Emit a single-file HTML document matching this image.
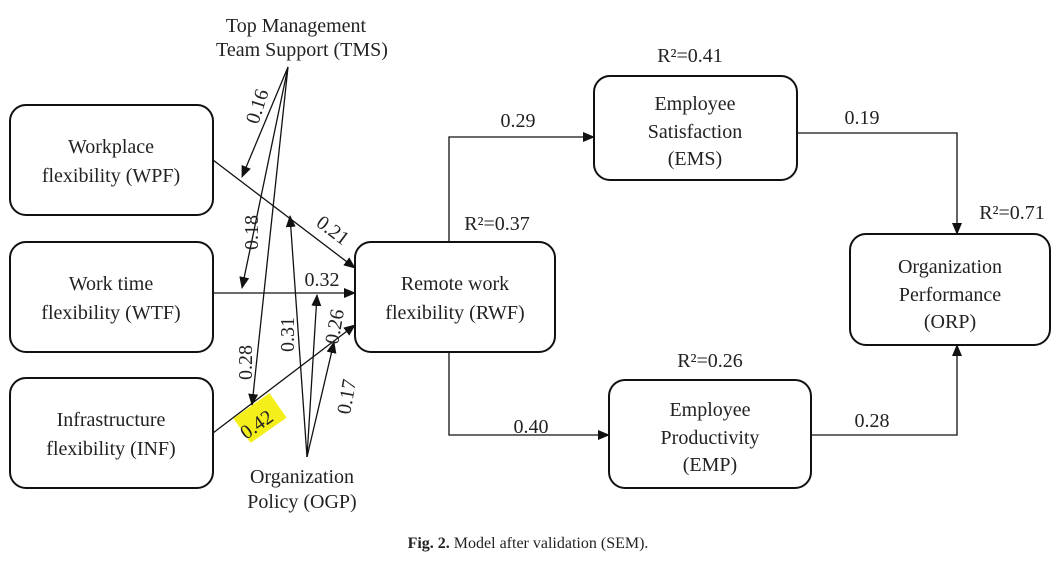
<!DOCTYPE html>
<html><head><meta charset="utf-8"><style>
body{margin:0;background:#fff;}
svg text{font-family:"Liberation Serif",serif;fill:#222;}
</style></head><body>
<svg width="1056" height="557" viewBox="0 0 1056 557" xmlns="http://www.w3.org/2000/svg">
<defs><marker id="a" markerWidth="12" markerHeight="10" refX="11" refY="5" orient="auto" markerUnits="userSpaceOnUse"><path d="M0,0 L12,5 L0,10 z" fill="#111"/></marker></defs>
<g fill="none" stroke="#111" stroke-width="2">
<rect x="10" y="105" width="203" height="110" rx="16"/>
<rect x="10" y="242" width="203" height="110" rx="16"/>
<rect x="10" y="378" width="203" height="110" rx="16"/>
<rect x="355" y="242" width="200" height="110" rx="16"/>
<rect x="594" y="76" width="203" height="104" rx="16"/>
<rect x="609" y="380" width="202" height="108" rx="16"/>
<rect x="850" y="234" width="200" height="111" rx="16"/>
</g>
<g fill="none" stroke="#111" stroke-width="1.3">
<line x1="213" y1="160" x2="355" y2="268" marker-end="url(#a)"/>
<line x1="213" y1="293" x2="355" y2="293" marker-end="url(#a)"/>
<line x1="213" y1="433" x2="355" y2="325" marker-end="url(#a)"/>
<line x1="288" y1="67" x2="242" y2="177" marker-end="url(#a)"/>
<line x1="288" y1="67" x2="242" y2="288" marker-end="url(#a)"/>
<line x1="288" y1="67" x2="252" y2="405" marker-end="url(#a)"/>
<line x1="307" y1="457" x2="290" y2="216" marker-end="url(#a)"/>
<line x1="307" y1="457" x2="317" y2="295" marker-end="url(#a)"/>
<line x1="307" y1="457" x2="334" y2="342" marker-end="url(#a)"/>
<polyline points="449,242 449,137 594,137" marker-end="url(#a)"/>
<polyline points="449,352 449,435 609,435" marker-end="url(#a)"/>
<polyline points="797,133 957,133 957,234" marker-end="url(#a)"/>
<polyline points="811,435 957,435 957,345" marker-end="url(#a)"/>
</g>
<g font-size="20" text-anchor="middle">
<text x="296" y="32">Top Management</text>
<text x="302" y="56">Team Support (TMS)</text>
<text x="111" y="153">Workplace</text>
<text x="111" y="182">flexibility (WPF)</text>
<text x="111" y="290">Work time</text>
<text x="111" y="319">flexibility (WTF)</text>
<text x="111" y="426">Infrastructure</text>
<text x="111" y="455">flexibility (INF)</text>
<text x="455" y="290">Remote work</text>
<text x="455" y="319">flexibility (RWF)</text>
<text x="695" y="110">Employee</text>
<text x="695" y="138">Satisfaction</text>
<text x="695" y="165">(EMS)</text>
<text x="710" y="416">Employee</text>
<text x="710" y="444">Productivity</text>
<text x="710" y="471">(EMP)</text>
<text x="950" y="273">Organization</text>
<text x="950" y="301">Performance</text>
<text x="950" y="328">(ORP)</text>
<text x="302" y="483">Organization</text>
<text x="302" y="508">Policy (OGP)</text>
<text x="690" y="62">R²=0.41</text>
<text x="497" y="230">R²=0.37</text>
<text x="710" y="367">R²=0.26</text>
<text x="1012" y="219">R²=0.71</text>
<text x="518" y="127">0.29</text>
<text x="862" y="124">0.19</text>
<text x="531" y="433">0.40</text>
<text x="872" y="427">0.28</text>
<text x="322" y="286">0.32</text>
</g>
<g font-size="20">
<text transform="translate(258,125) rotate(-72)">0.16</text>
<text transform="translate(258,250) rotate(-90)">0.18</text>
<text transform="translate(252,380) rotate(-90)">0.28</text>
<text transform="translate(294,352) rotate(-90)">0.31</text>
<text transform="translate(338,345) rotate(-80)">0.26</text>
<text transform="translate(350,415) rotate(-80)">0.17</text>
<text transform="translate(315,225) rotate(37)">0.21</text>
<rect x="238" y="403" width="44" height="30" fill="#f4ee1a" transform="rotate(-35,260,418)"/>
<text transform="translate(246,440) rotate(-35)">0.42</text>
</g>
<text x="528" y="548" font-size="16" text-anchor="middle"><tspan font-weight="bold">Fig. 2.</tspan>  Model after validation (SEM).</text>
</svg>
</body></html>
